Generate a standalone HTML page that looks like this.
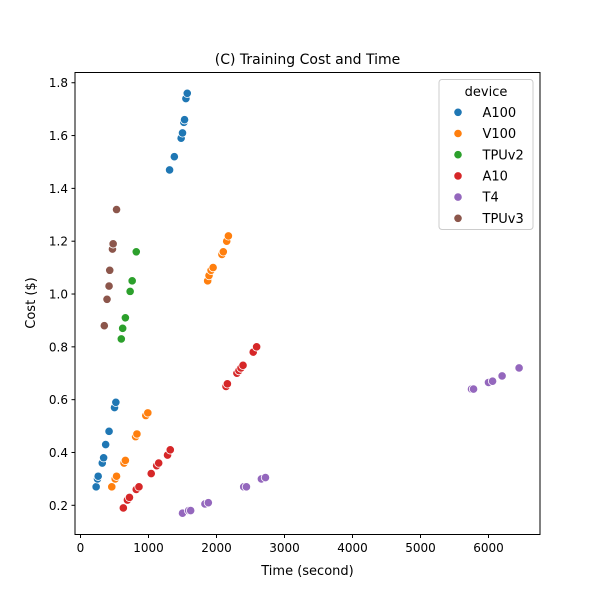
<!DOCTYPE html>
<html><head><meta charset="utf-8"><style>
body{margin:0;background:#fff}
text{font-family:"DejaVu Sans","Liberation Sans",sans-serif;fill:#000}
</style></head><body>
<svg id="chart" width="600" height="600" xmlns="http://www.w3.org/2000/svg">
<rect width="600" height="600" fill="#fff"/>
<text x="307.5" y="64" font-size="14" text-anchor="middle">(C) Training Cost and Time</text>
<g id="marks"></g>
<rect x="75" y="72.5" width="465" height="462" fill="none" stroke="#000" stroke-width="1"/>
<g id="axes"></g>
<text x="307.5" y="575" font-size="13" text-anchor="middle">Time (second)</text>
<text transform="translate(35,303) rotate(-90)" font-size="13" text-anchor="middle">Cost ($)</text>
<g id="legend"></g>
</svg>
<script>
const devices=["A100","V100","TPUv2","A10","T4","TPUv3"];
const colors=["#1f77b4","#ff7f0e","#2ca02c","#d62728","#9467bd","#8c564b"];
const a100X=[230,250,260,320,340,370,420,500,520,1310,1380,1480,1500,1520,1530,1550,1570];
const a100Y=[0.27,0.30,0.31,0.36,0.38,0.43,0.48,0.57,0.59,1.47,1.52,1.59,1.61,1.65,1.66,1.74,1.76];
const v100X=[460,510,530,640,660,810,830,960,990,1870,1890,1920,1950,2080,2100,2150,2175];
const v100Y=[0.27,0.30,0.31,0.36,0.37,0.46,0.47,0.54,0.55,1.05,1.07,1.09,1.10,1.15,1.16,1.20,1.22];
const tpuv2X=[600,620,660,730,760,820];
const tpuv2Y=[0.83,0.87,0.91,1.01,1.05,1.16];
const a10X=[630,690,720,820,860,1040,1120,1150,1280,1320,2140,2160,2300,2330,2360,2390,2540,2590];
const a10Y=[0.19,0.22,0.23,0.26,0.27,0.32,0.35,0.36,0.39,0.41,0.65,0.66,0.70,0.71,0.72,0.73,0.78,0.80];
const t4X=[1500,1590,1620,1830,1880,2400,2440,2660,2720,5750,5780,6000,6060,6200,6450];
const t4Y=[0.17,0.18,0.18,0.205,0.21,0.27,0.27,0.30,0.305,0.64,0.64,0.665,0.67,0.69,0.72];
const tpuv3X=[350,390,420,430,470,480,530];
const tpuv3Y=[0.88,0.98,1.03,1.09,1.17,1.19,1.32];
const xTicks=[0,1000,2000,3000,4000,5000,6000];
const yTicks=[0.2,0.4,0.6,0.8,1.0,1.2,1.4,1.6,1.8];
const NS="http://www.w3.org/2000/svg";
function sx(v){return 80.5+v*0.068;}
function sy(v){return 505.3-(v-0.2)*264.1;}
const series=[[a100X,a100Y],[v100X,v100Y],[tpuv2X,tpuv2Y],[a10X,a10Y],[t4X,t4Y],[tpuv3X,tpuv3Y]];
const marks=document.getElementById('marks');
series.forEach((s,i)=>{
  s[0].forEach((x,j)=>{
    const c=document.createElementNS(NS,'circle');
    c.setAttribute('cx',sx(x));c.setAttribute('cy',sy(s[1][j]));c.setAttribute('r',4.2);
    c.setAttribute('fill',colors[i]);c.setAttribute('stroke','#fff');c.setAttribute('stroke-width',0.8);
    
    
    marks.appendChild(c);
  });
});
const axes=document.getElementById('axes');
xTicks.forEach(t=>{
  const l=document.createElementNS(NS,'line');
  l.setAttribute('x1',sx(t));l.setAttribute('x2',sx(t));l.setAttribute('y1',534.5);l.setAttribute('y2',538);l.setAttribute('stroke','#000');
  
  
  axes.appendChild(l);
  const tx=document.createElementNS(NS,'text');
  tx.setAttribute('x',sx(t));tx.setAttribute('y',552);tx.setAttribute('font-size',12);tx.setAttribute('text-anchor','middle');
  tx.textContent=t;
  
  
  axes.appendChild(tx);
});
yTicks.forEach(t=>{
  const l=document.createElementNS(NS,'line');
  l.setAttribute('x1',71.5);l.setAttribute('x2',75);l.setAttribute('y1',sy(t));l.setAttribute('y2',sy(t));l.setAttribute('stroke','#000');
  
  
  axes.appendChild(l);
  const tx=document.createElementNS(NS,'text');
  tx.setAttribute('x',68);tx.setAttribute('y',sy(t)+4.5);tx.setAttribute('font-size',12);tx.setAttribute('text-anchor','end');
  tx.textContent=t.toFixed(1);
  
  
  axes.appendChild(tx);
});
const lg=document.getElementById('legend');
const box=document.createElementNS(NS,'rect');
box.setAttribute('x',439);box.setAttribute('y',79.5);box.setAttribute('width',94);box.setAttribute('height',150);box.setAttribute('rx',3);
box.setAttribute('fill','#fff');box.setAttribute('fill-opacity',0.8);box.setAttribute('stroke','#ccc');


lg.appendChild(box);
const lt=document.createElementNS(NS,'text');
lt.setAttribute('x',486);lt.setAttribute('y',96);lt.setAttribute('font-size',13);lt.setAttribute('text-anchor','middle');lt.textContent='device';


lg.appendChild(lt);
devices.forEach((d,i)=>{
  const y=112.3+i*21.2;
  const c=document.createElementNS(NS,'circle');
  c.setAttribute('cx',458);c.setAttribute('cy',y);c.setAttribute('r',4.2);c.setAttribute('fill',colors[i]);c.setAttribute('stroke','#fff');c.setAttribute('stroke-width',0.8);
  
  
  lg.appendChild(c);
  const t=document.createElementNS(NS,'text');
  t.setAttribute('x',482.5);t.setAttribute('y',y+4.6);t.setAttribute('font-size',13);t.textContent=d;
  
  
  lg.appendChild(t);
});
</script>
</body></html>
